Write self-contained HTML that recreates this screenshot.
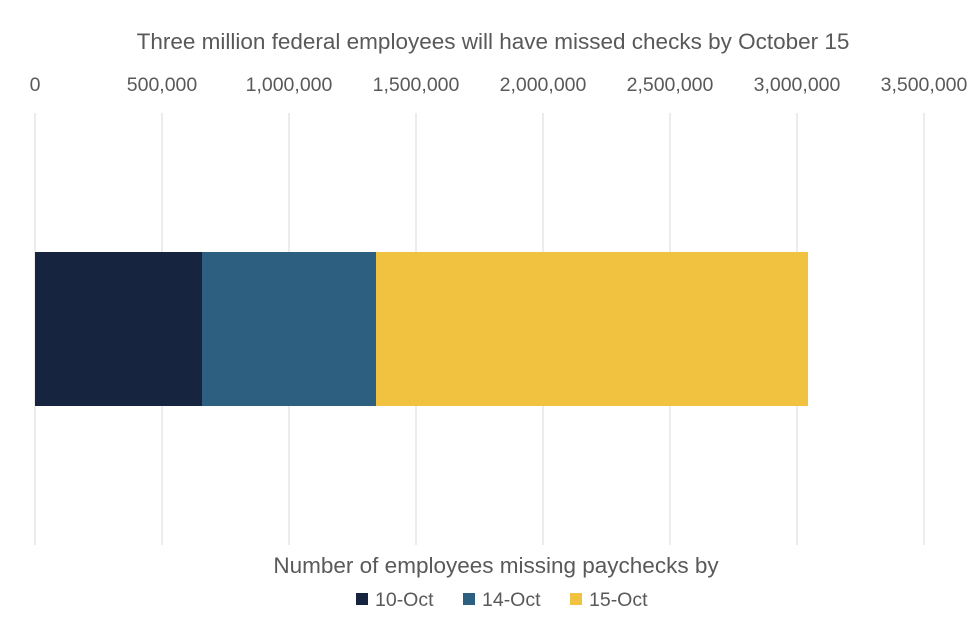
<!DOCTYPE html>
<html><head><style>
body{margin:0;background:#fff;width:976px;height:630px;overflow:hidden;font-family:"Liberation Sans",sans-serif;}
</style></head><body>
<svg width="976" height="630" xmlns="http://www.w3.org/2000/svg" font-family="Liberation Sans, sans-serif" fill="#595959">
<text x="493" y="49" font-size="22.5" text-anchor="middle">Three million federal employees will have missed checks by October 15</text>
<g stroke="#d9d9d9" stroke-width="1">
<line x1="35" y1="113" x2="35" y2="545"/><line x1="162" y1="113" x2="162" y2="545"/>
<line x1="289" y1="113" x2="289" y2="545"/><line x1="416" y1="113" x2="416" y2="545"/>
<line x1="543" y1="113" x2="543" y2="545"/><line x1="670" y1="113" x2="670" y2="545"/>
<line x1="797" y1="113" x2="797" y2="545"/><line x1="924" y1="113" x2="924" y2="545"/>
</g>
<g font-size="19.5" text-anchor="middle">
<text x="35" y="91">0</text><text x="162" y="91">500,000</text><text x="289" y="91">1,000,000</text>
<text x="416" y="91">1,500,000</text><text x="543" y="91">2,000,000</text><text x="670" y="91">2,500,000</text>
<text x="797" y="91">3,000,000</text><text x="924" y="91">3,500,000</text>
</g>
<rect x="35" y="252" width="167" height="154" fill="#172440"/>
<rect x="202" y="252" width="174" height="154" fill="#2c5f80"/>
<rect x="376" y="252" width="432" height="154" fill="#f0c240"/>
<text x="496" y="573" font-size="22.5" text-anchor="middle">Number of employees missing paychecks by</text>
<g font-size="19.5">
<rect x="356" y="593" width="12" height="12" fill="#172440"/><text x="375" y="606">10-Oct</text>
<rect x="463" y="593" width="12" height="12" fill="#2c5f80"/><text x="482" y="606">14-Oct</text>
<rect x="570" y="593" width="12" height="12" fill="#f0c240"/><text x="589" y="606">15-Oct</text>
</g>
</svg>
</body></html>
